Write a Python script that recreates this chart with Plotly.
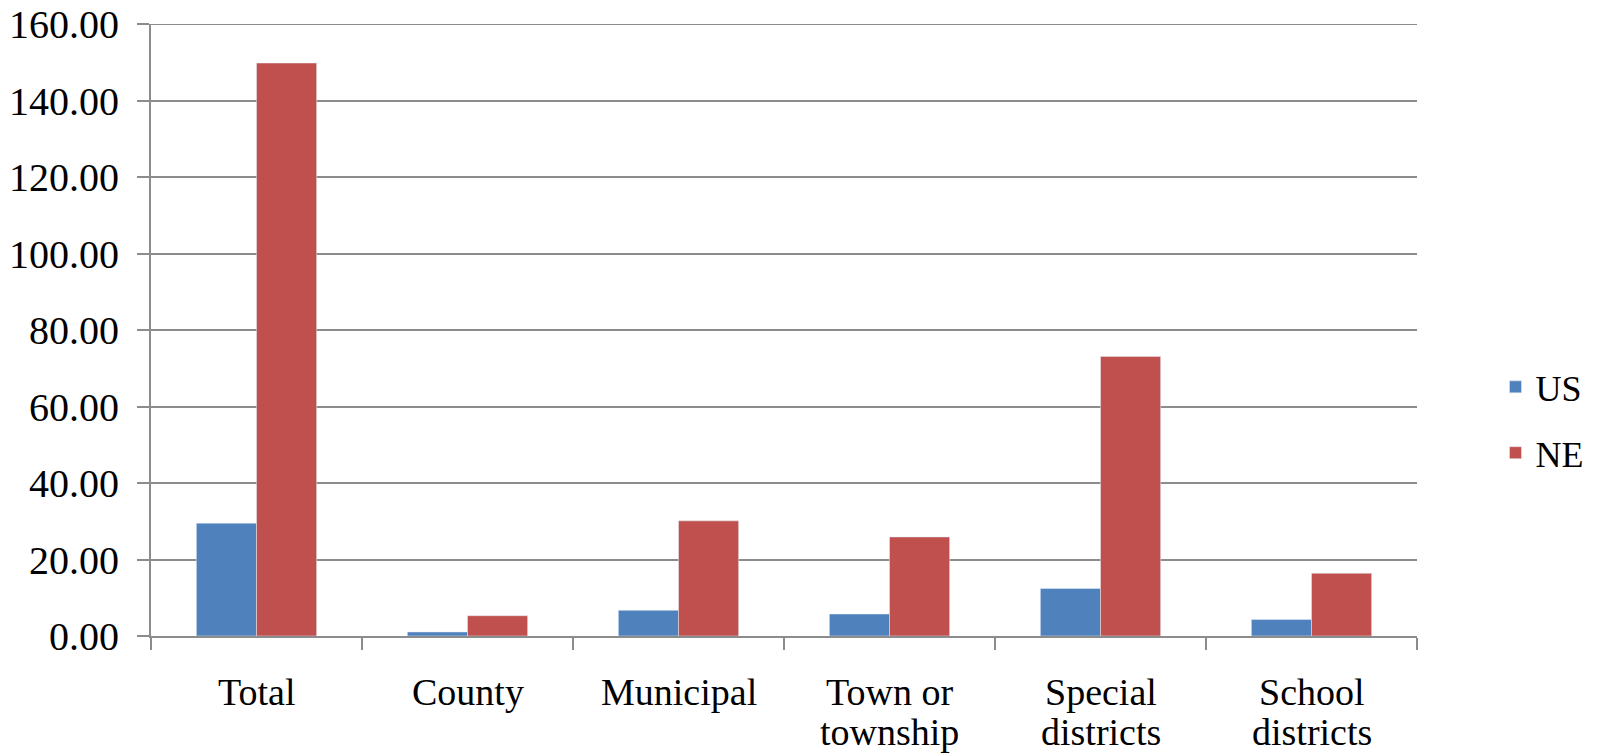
import plotly.graph_objects as go

categories = ["Total", "County", "Municipal", "Town or township", "Special districts", "School districts"]
label_lines = [["Total"], ["County"], ["Municipal"], ["Town or", "township"],
               ["Special", "districts"], ["School", "districts"]]
us_values = [29.5, 1.05, 6.7, 5.75, 12.4, 4.3]
ne_values = [149.8, 5.3, 30.1, 25.9, 73.1, 16.4]

US_COLOR = "#4F81BD"
NE_COLOR = "#C0504D"
GRID = "#8C8C8C"
FONT = "Liberation Serif, Times New Roman, serif"
Y_MAX = 160
LINE_OFFSETS = [-56, -96]  # pixel offset of each label line below the baseline

fig = go.Figure()
fig.add_trace(go.Bar(name="US", x=categories, y=us_values, marker_color=US_COLOR,
                     legendgroup="us"))
fig.add_trace(go.Bar(name="NE", x=categories, y=ne_values, marker_color=NE_COLOR,
                     legendgroup="ne"))

# top gridline at the edge of the value range
fig.add_shape(type="line", xref="paper", yref="y", x0=0, x1=1, y0=Y_MAX, y1=Y_MAX,
              line=dict(color=GRID, width=2), layer="below")

# category labels, one annotation per line for tighter line spacing
for cat, lines in zip(categories, label_lines):
    for i, line in enumerate(lines):
        fig.add_annotation(x=cat, y=0, xref="x", yref="y", text=line,
                           showarrow=False, yanchor="middle", xanchor="center",
                           yshift=LINE_OFFSETS[i],
                           font=dict(family=FONT, size=38, color="black"))

fig.update_layout(
    width=1601, height=753,
    margin=dict(l=151, r=182, t=24, b=117),
    paper_bgcolor="white", plot_bgcolor="white",
    barmode="group", bargap=0.43, bargroupgap=0,
    font=dict(family=FONT, size=38, color="black"),
    showlegend=True,
    legend=dict(x=1.062, y=0.353, xanchor="left", yanchor="middle",
                font=dict(family=FONT, size=36, color="black"),
                traceorder="grouped", tracegroupgap=16,
                bgcolor="rgba(0,0,0,0)"),
)

fig.update_xaxes(
    type="category", showgrid=False, showline=True, linecolor=GRID, linewidth=2,
    ticks="outside", tickson="boundaries", ticklen=12, tickwidth=2, tickcolor=GRID,
    showticklabels=False, automargin=False,
)
fig.update_yaxes(
    range=[0, Y_MAX], dtick=20, tickformat=".2f",
    showgrid=True, gridcolor=GRID, gridwidth=2,
    showline=True, linecolor=GRID, linewidth=2,
    ticks="outside", ticklen=12, tickwidth=2, tickcolor=GRID,
    tickfont=dict(family=FONT, size=40, color="black"),
    ticklabelstandoff=10, zeroline=False, automargin=False,
)

fig.write_html("out.html")
